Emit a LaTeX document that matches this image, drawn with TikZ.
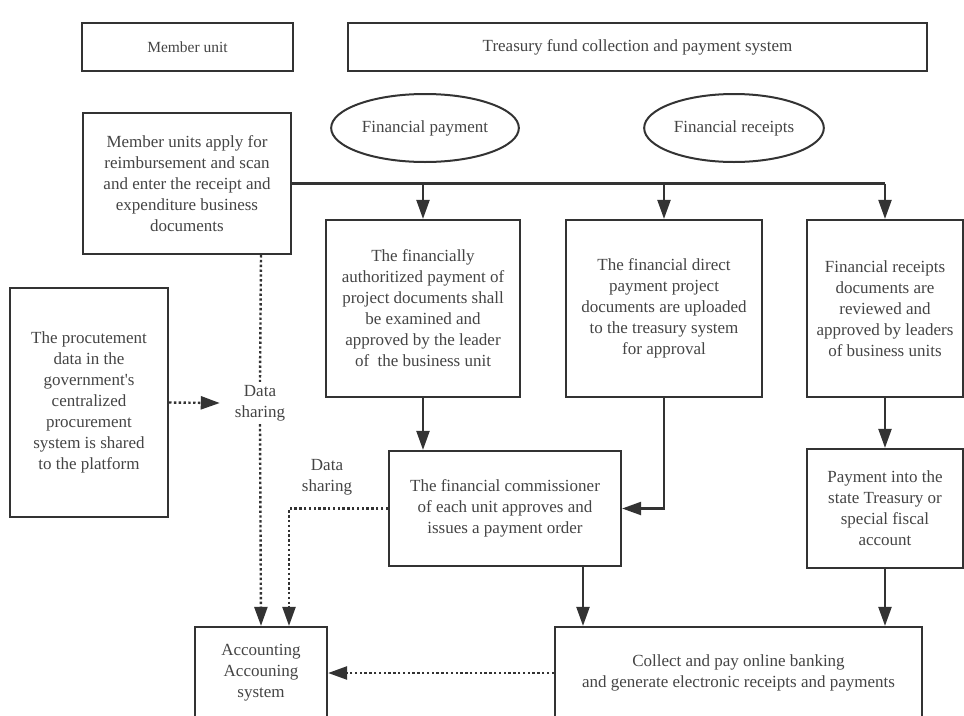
\documentclass[tikz,border=0pt]{standalone}
\usepackage{fontspec}
\setmainfont{Liberation Serif}
\usetikzlibrary{arrows.meta,shapes.geometric}

\definecolor{ink}{HTML}{333333}
\definecolor{txt}{HTML}{444444}

\tikzset{
    box/.style = {draw=ink, line width=2.2pt, rectangle, align=center, text=txt, inner sep=2pt},
    oval/.style = {draw=ink, line width=2pt, ellipse, align=center, text=txt},
    note/.style = {align=center, text=txt, inner sep=3pt},
    link/.style = {draw=ink, line width=2.2pt},
    flow/.style = {link, -{Triangle[length=19pt,width=13pt]}},
    share/.style = {draw=ink, line width=2.4pt, dash pattern=on 2.4pt off 2.4pt},
    shareflow/.style = {share, -{Triangle[length=19pt,width=13pt]}}
}

\begin{document}
\begin{tikzpicture}[x=1pt, y=-1pt, font=\fontsize{17}{21}\selectfont]
    \useasboundingbox (0,0) rectangle (964,715);

    % Header
    \node[box, minimum width=211, minimum height=48, font=\fontsize{15.5}{21}\selectfont] (unit) at (187.5,47) {Member unit};
    \node[box, minimum width=579, minimum height=48] (treasury) at (637.5,47) {Treasury fund collection and payment system};

    % Ellipses
    \node[oval, minimum width=172, minimum height=68] (pay) at (425,128) {Financial payment};
    \node[oval, minimum width=168, minimum height=68] (receipt) at (734,128) {Financial receipts};

    % Boxes
    \node[box, minimum width=208, minimum height=141] (apply) at (187,183.5)
        {Member units apply for\\reimbursement and scan\\and enter the receipt and\\expenditure business\\documents};
    \node[box, minimum width=194, minimum height=177] (authorized) at (423,308.5)
        {The financially\\authoritized payment of\\project documents shall\\be examined and\\approved by the leader\\of\ \ the business unit};
    \node[box, minimum width=196, minimum height=177] (direct) at (664,308.5)
        {The financial direct\\payment project\\documents are uploaded\\to the treasury system\\for approval};
    \node[box, minimum width=156, minimum height=177] (receipts) at (885,308.5)
        {Financial receipts\\documents are\\reviewed and\\approved by leaders\\of business units};
    \node[box, minimum width=158, minimum height=229] (procure) at (89,402.5)
        {The procutement\\data in the\\government\textquotesingle s\\centralized\\procurement\\system is shared\\to the platform};
    \node[box, minimum width=232, minimum height=115] (commis) at (505,508.5)
        {The financial commissioner\\of each unit approves and\\issues a payment order};
    \node[box, minimum width=156, minimum height=119] (paystate) at (885,508.5)
        {Payment into the\\state Treasury or\\special fiscal\\account};
    \node[box, minimum width=132, minimum height=92] (account) at (261,673)
        {Accounting\\Accouning\\system};
    \node[box, minimum width=367, minimum height=92] (collect) at (738.5,673)
        {Collect and pay online banking\\and generate electronic receipts and payments};

    % Labels
    \node[note] (share1) at (260,403) {Data\\sharing};
    \node[note] (share2) at (327,477) {Data\\sharing};

    % Solid arrows
    \draw[link] (apply.east) -- (receipts.north |- apply.east);
    \draw[flow] (authorized.north |- apply.east) -- (authorized.north);
    \draw[flow] (direct.north |- apply.east) -- (direct.north);
    \draw[flow] (receipts.north |- apply.east) -- (receipts.north);
    \draw[flow] (authorized.south) -- (authorized.south |- commis.north);
    \draw[flow] (direct.south) |- (commis.east);
    \draw[flow] (receipts.south) -- (paystate.north);
    \draw[flow] (paystate.south) -- (paystate.south |- collect.north);
    \draw[flow] ([xshift=78]commis.south) -- ([xshift=78]commis.south |- collect.north);

    % Data sharing (dotted)
    \draw[share] (apply.south -| account.north) -- (share1.north);
    \draw[shareflow] (share1.south) -- (account.north);
    \draw[shareflow] (procure.east) -- ([xshift=-12]share1.west);
    \draw[shareflow] (commis.west) -| ([xshift=28]account.north);
    \draw[shareflow] (collect.west) -- (account.east);
\end{tikzpicture}
\end{document}
